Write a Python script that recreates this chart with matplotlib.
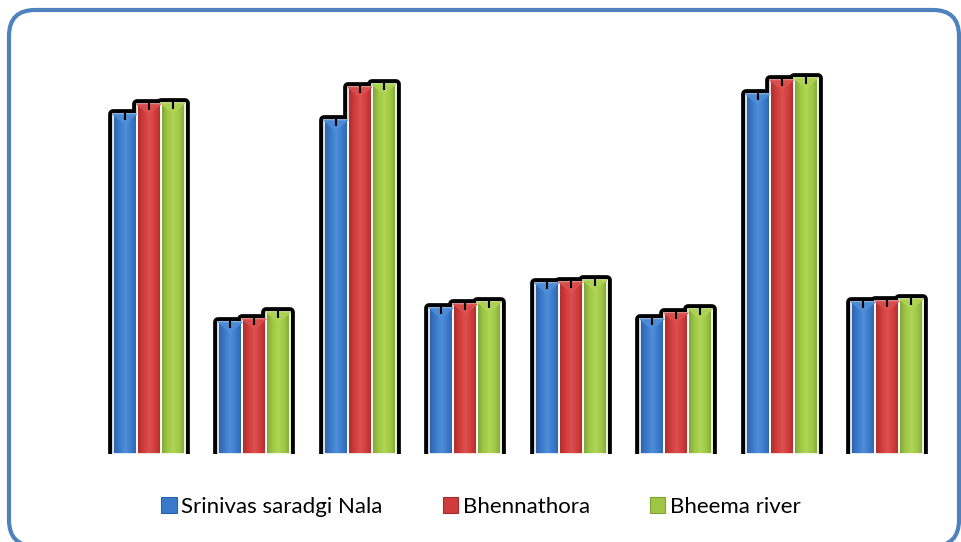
import numpy as np
import matplotlib
matplotlib.use("Agg")
import matplotlib.pyplot as plt
from matplotlib.colors import LinearSegmentedColormap
from matplotlib.patches import FancyBboxPatch, Patch
from matplotlib.transforms import IdentityTransform
import matplotlib.patheffects as pe

# Data (arbitrary units)
groups = ["1", "2", "3", "4", "5", "6", "7", "8"]
series_names = ["Srinivas saradgi Nala", "Bhennathora", "Bheema river"]
srinivas = [340, 132, 334, 146, 171, 135, 360, 152]
bhennathora = [350, 135, 367, 150, 172, 141, 374, 153]
bheema = [351, 142, 370, 152, 174, 145, 376, 155]
err = [3, 3, 3, 3, 3, 3, 3, 3]

series = [srinivas, bhennathora, bheema]
base_colors = ["#3a79c9", "#d03b3b", "#9fc645"]
dark_colors = ["#2c60a8", "#a82c2c", "#7ca232"]
light_colors = ["#4f8ed8", "#dc5050", "#b0d556"]

fig = plt.figure(figsize=(9.62, 5.42), dpi=100)
ax = fig.add_axes([96 / 962, 88 / 542, 844 / 962, 420 / 542])

x = np.arange(len(groups))
w = 0.228
offsets = [-w, 0, w]

# black shadow behind the bars
for vals, off in zip(series, offsets):
    ax.bar(x + off, vals, w, color="black", zorder=1,
           path_effects=[pe.Stroke(linewidth=7, foreground="black", joinstyle="round"), pe.Normal()])

# coloured bars with a horizontal gradient
for vals, off, c, d, l in zip(series, offsets, base_colors, dark_colors, light_colors):
    bars = ax.bar(x + off, vals, w, color=c, edgecolor="white", linewidth=1.2, zorder=3)
    cmap = LinearSegmentedColormap.from_list("g", [d, c, l, c, d])
    grad = np.linspace(0, 1, 64).reshape(1, -1)
    for b in bars:
        x0, h = b.get_x(), b.get_height()
        im = ax.imshow(grad, cmap=cmap, extent=[x0, x0 + w, 0, h], aspect="auto", zorder=2.5)
        im.set_clip_path(b)
        b.set_facecolor("none")
        # lighter bevel at the top
        ax.fill([x0, x0 + w, x0 + w / 2], [h, h, h - 10], color=l, alpha=0.8, zorder=3.2)
    # small error bars
    ax.vlines(x + off, np.array(vals) - 6, np.array(vals) + np.array(err), color="black", lw=1.5, zorder=4)
    ax.hlines(np.array(vals) + np.array(err), x + off - w * 0.22, x + off + w * 0.22, color="black", lw=1.5, zorder=4)

ax.set_xlim(-0.5, len(groups) - 0.5)
ax.set_ylim(0, 420)
ax.axis("off")

handles = [Patch(facecolor=c, edgecolor=d, linewidth=0.8) for c, d in zip(base_colors, dark_colors)]
fig.legend(handles, series_names, loc="center", bbox_to_anchor=(0.5, 1 - 507 / 542), ncol=3,
           frameon=False, prop={"family": "Lato", "size": 16}, handlelength=0.7, handleheight=0.7,
           handletextpad=0.2, columnspacing=2.7)

# rounded border
border = FancyBboxPatch((9, -4), 950, 536, boxstyle="round,pad=0,rounding_size=26",
                        transform=IdentityTransform(), facecolor="none", edgecolor="#4f81bd", linewidth=3)
fig.patches.append(border)

fig.savefig("out.png", dpi=100)
